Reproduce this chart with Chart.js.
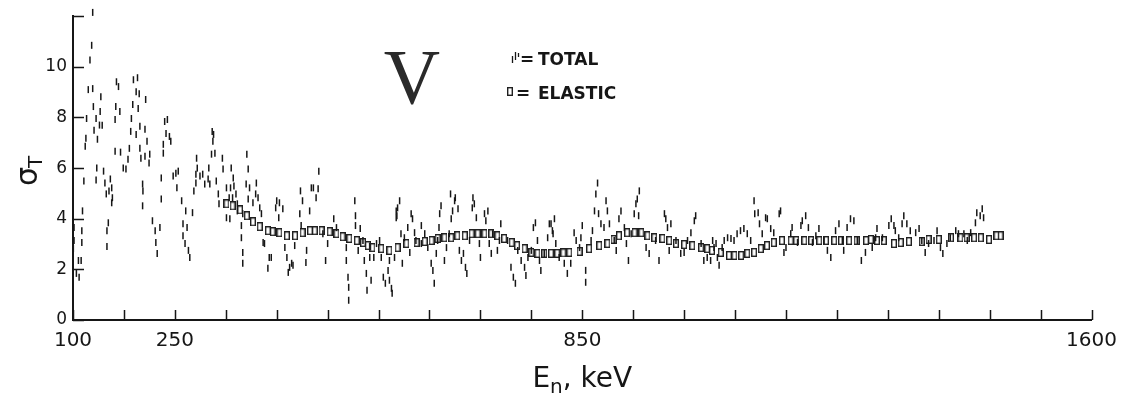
<!DOCTYPE html>
<html>
<head>
<meta charset="utf-8">
<script src="https://cdn.jsdelivr.net/npm/chart.js@4/dist/chart.umd.min.js"></script>
<style>
  body { margin: 0; background: #fff; }
  .wrap { width: 1126px; height: 396px; }
</style>
</head>
<body>
<div class="wrap"><canvas id="myChart"></canvas></div>
<script>
// energy (keV), cross section (b)
const totalPoints = [
  [129,12.15],[127.5,10.85],[125,10.27],[122.5,9.1],[129,9.14],[141,8.82],[130,8.43],[140,8.24],
  [120,7.96],[134,7.96],[131,7.5],[139,7.7],[143,7.69],[119,7.18],[118,6.86],[136,7.14],
  [116,5.49],[135,6.0],[134,5.53],[145,5.88],[147,5.41],[149,4.98],[153,5.1],[155,5.57],
  [157,5.22],[158,4.83],[157,4.63],[114,4.31],[101.5,3.65],[113,3.53],[101.5,3.14],[113,3.06],
  [100.5,2.82],[108,2.35],[112,2.35],[105,1.84],[109,1.69],[150,3.53],[152,3.84],[150,2.9],
  [164,9.41],[167,9.22],[163,8.43],[169,8.24],[162,7.92],[162,6.67],[170,6.63],[174,6.0],
  [178,5.96],[189,9.49],[195,9.57],[193,9.02],[197.5,8.94],[188,8.51],[196,8.35],[186,7.96],
  [185,7.45],[193,7.33],[183,6.78],[181,6.35],[198.5,6.78],[207,8.71],[198.5,7.65],[206,7.53],
  [209,7.06],[200,6.39],[206,6.47],[213,6.55],[212,6.2],[202.5,5.37],[203,5.1],[202.5,4.51],
  [217,3.92],[221,3.53],[222,3.06],[224,2.63],[228,3.65],[235,7.84],[239,7.92],[237,7.37],
  [242,7.25],[244,7.06],[233,6.94],[233,6.59],[230,5.61],[230,4.78],[247.5,5.69],[251.5,5.8],
  [255,5.88],[253,5.22],[260,4.71],[266,4.31],[262,3.8],[268,3.65],[262,3.33],[265,3.02],
  [270,2.75],[272,2.47],[276,4.24],[282,6.39],[283,6.0],[281,5.76],[281,5.41],[278,5.1],
  [287,5.69],[291,5.76],[294,5.37],[299,5.57],[300,6.0],[301.5,5.37],[305,7.45],[307,7.33],
  [306,7.06],[304,6.55],[309,6.59],[311,5.49],[314,4.98],[315,4.59],[320,6.39],[321,5.96],
  [326,5.22],[330,4.83],[326,4.04],[331,4.0],[333,6.0],[336,5.61],[337,5.29],[340,4.98],
  [342,4.59],[342,4.31],[332,5.22],[335,4.83],
  [356,6.55],[358,5.96],[355,5.37],[360,5.22],[358,4.78],[365,4.63],[370,5.41],[369,4.98],
  [372.5,4.83],[375,4.43],[377.5,4.2],[348,3.73],[348,3.25],[350,2.67],[350,2.24],[350,4.2],
  [380,3.06],[382,3.02],[389,2.47],[387,2.04],[392,2.47],[400,4.71],[398.5,4.43],[404,4.63],
  [409,4.39],[403,4.04],[412,2.86],[415,2.47],[419,2.08],[417,1.88],[422,2.24],[424,2.16],
  [426.5,2.94],[435,5.1],[438,4.71],[434,4.2],[436,3.73],[444,2.75],[443,2.27],[448.5,4.31],
  [451,5.22],[454,5.22],[458,4.83],[462,5.88],[461,5.18],[468,3.41],[472,2.35],[475,3.02],
  [484,4.0],[488,3.65],[502.5,2.86],[502.5,2.35],[505,1.69],[506,1.29],[506,0.78],[515,4.71],
  [516,4.12],[516,3.73],[523,3.61],[520,2.75],[527,3.14],[529,2.35],[532,1.84],[533,1.18],
  [537,2.47],[539,1.57],[543,2.47],[547,3.02],[551.5,3.14],[554,2.47],[557,1.69],[560,1.45],
  [564,1.96],[566,2.35],[569,1.25],[570,1.06],[573.5,2.47],[576,4.31],[578,4.43],[576,4.04],
  [566,1.57],[577,4.12],[581,4.71],[585,2.24],[588,3.25],[583,3.41],[593,3.65],[596,2.67],
  [598,4.2],[600,4.0],[603,3.45],[605,3.14],[613,3.73],[613,3.02],[618,3.41],[622.5,2.86],
  [627.5,2.24],[630,1.96],[632,1.45],[635,2.63],[637,3.14],[639,3.65],[640,4.2],[642,4.51],
  [647,2.35],[650,2.86],[654,3.41],[656,4.98],[657,4.0],[659,4.31],[662,4.71],[663,4.83],
  [667,4.39],[669,2.75],[672,2.35],[675,2.63],[678,2.08],[680,1.84],[684,3.14],[689,4.83],
  [688,4.43],[691,4.59],[694,4.04],[698.5,3.02],[700,2.47],[706,4.2],[708,3.92],[711,4.31],
  [713,3.02],[716,2.63],[718,3.41],[725,2.75],[728,3.14],[730,3.8],[740,3.14],[745,2.08],
  [748.5,1.69],[751.5,1.45],[755,2.75],[760,2.35],[765,2.08],[767,1.76],[770,2.47],[775,2.75],
  [778,3.65],[781,3.84],[784,3.14],[787,2.35],[789,1.96],[794,2.63],[799,3.25],[801.5,3.8],
  [806,3.53],[809,4.0],[811,3.02],
  [804,3.8],[807,3.41],[816,2.47],[823.5,2.24],[828,1.84],[833,2.24],[838,3.45],[841,3.14],
  [846,2.86],[850,3.73],[848,3.25],[855,1.96],[855,1.49],[863,3.14],[865,3.53],[868,4.31],
  [870,4.98],[872.5,5.41],[874,4.2],[877.5,3.8],[882,3.65],[885,4.71],[887,4.31],[890,3.8],
  [897,3.14],[900,2.75],[904,4.0],[907,4.31],[912,3.65],[915,3.02],[918,2.35],[922,3.41],
  [926.5,4.2],[929,4.59],[931,4.78],[934,5.1],[933,4.12],[944,2.86],[948.5,2.63],[958,3.14],
  [963,2.35],[971,4.2],[973,4.0],[975.5,3.65],[978,2.75],[980.5,3.8],[988,3.14],[995,2.63],
  [1000,2.67],[1005,3.14],[1010,3.45],[1015,3.92],[1017,4.12],[1025,3.02],[1029,2.35],[1034,2.47],
  [1042,3.14],[1047,3.02],
  [1039,2.35],[1044,2.86],[1049,2.47],[1051.5,2.16],[1056,2.86],[1059,3.14],[1064,3.25],[1069,3.22],
  [1073.5,3.14],[1078,3.41],[1083,3.53],[1088,3.61],[1093,3.41],[1098,3.14],[1103,4.71],[1104,4.2],
  [1109,4.24],[1111,3.8],[1115,3.41],[1120,4.04],[1122.5,4.0],[1127.5,3.61],[1132,3.45],[1140,4.2],
  [1142,4.31],[1147,2.67],[1150,2.86],[1157,3.41],[1159,3.65],[1167,3.06],[1172,3.73],[1174,3.92],
  [1179,4.12],[1183,3.65],[1189,3.06],[1194,3.33],[1198.5,3.61],[1206,3.14],[1211,2.75],[1216,2.47],
  [1223,3.53],[1228,3.8],[1233,3.14],[1235,2.75],[1240,3.65],[1245,4.0],[1250,3.92],[1255,3.14],
  [1261,2.35],[1267,2.67],[1277,2.86],[1282,3.25],[1284,3.61],
  [1292,3.25],[1301.5,3.73],[1305,4.0],[1309,3.73],[1311,3.53],[1316,3.25],[1321,3.8],[1323.5,4.12],
  [1328,3.8],[1333,3.53],[1341,3.45],[1346,3.61],[1350,3.14],[1355,2.67],[1360,3.02],[1368,3.14],
  [1372.5,3.53],[1377.5,2.86],[1381,2.63],[1387,3.02],[1392,3.25],[1400,3.53],[1404,3.41],[1412,3.41],
  [1417,3.14],[1422,3.45],[1429,3.84],[1431,4.24],[1436,4.12],[1439,4.39],[1441,4.04]
];

const elasticPoints = [
  [326,4.59],[335,4.51],[346,4.35],[356,4.12],[365,3.88],[375,3.69],[387,3.53],[394,3.49],
  [404,3.45],[415,3.33],[427,3.33],[438,3.45],[449,3.53],[456,3.53],[466,3.53],[478,3.49],
  [488,3.41],[497,3.29],[507,3.22],[518,3.14],[527,3.06],[534,2.94],[541,2.86],[554,2.82],
  [566,2.75],[578,2.86],[591,3.02],[606,3.06],[618,3.10],[628,3.14],[637,3.22],[647,3.25],
  [657,3.25],[666,3.33],[677,3.33],[687,3.41],[696,3.41],[706,3.41],[716,3.41],[725,3.33],
  [735,3.22],[746,3.06],[754,2.94],[765,2.82],[775,2.67],[784,2.63],[794,2.63],[804,2.63],
  [813,2.63],[822,2.65],[831,2.67],[846,2.71],[860,2.82],[875,2.94],[887,3.02],[896,3.18],
  [904,3.33],[916,3.45],[927,3.45],[937,3.45],[946,3.33],[956,3.25],[968,3.22],[978,3.14],
  [988,3.02],[1000,2.98],[1012,2.94],[1025,2.86],[1034,2.82],[1041,2.75],[1054,2.67],[1066,2.55],
  [1074,2.55],[1084,2.55],[1093,2.63],[1103,2.67],[1113,2.82],[1122,2.94],[1132,3.06],[1144,3.14],
  [1157,3.14],[1165,3.14],[1177,3.14],[1187,3.14],[1199,3.14],[1209,3.14],[1221,3.14],[1231,3.14],
  [1243,3.14],[1254,3.14],[1268,3.14],[1275,3.18],[1284,3.14],[1294,3.14],[1309,3.02],[1319,3.06],
  [1331,3.10],[1350,3.10],[1360,3.18],[1375,3.18],[1393,3.25],[1407,3.25],[1416,3.25],[1427,3.25],
  [1437,3.25],[1449,3.18],[1460,3.33],[1466,3.33]
];

const xTicks = [100,175,250,325,400,475,550,625,700,775,850,925,1000,1075,1150,1225,1300,1375,1450,1525,1600];
const xTickLabels = [100, 250, 850, 1600];
const yTicks = [0, 2, 4, 6, 8, 10, 12];
const yTickLabels = [0, 2, 4, 6, 8, 10];

const ink = '#161616';
const sans = '"DejaVu Sans", sans-serif';

// open rectangle used as the elastic marker
const rectMark = document.createElement('canvas');
rectMark.width = 6;
rectMark.height = 9;
(function () {
  const c = rectMark.getContext('2d');
  c.strokeStyle = '#202020';
  c.lineWidth = 1.4;
  c.strokeRect(0.7, 0.7, 4.6, 7.6);
})();

const toXY = p => ({ x: p[0], y: p[1] });

// ticks inside the frame, titles, "V" and the key
const decor = {
  id: 'decor',
  afterDraw(chart) {
    const ctx = chart.ctx;
    const xs = chart.scales.x, ys = chart.scales.y;
    const a = chart.chartArea;
    ctx.save();
    ctx.strokeStyle = ink;
    ctx.lineWidth = 1.5;
    ctx.beginPath();
    xs.ticks.forEach(t => {
      const px = Math.round(xs.getPixelForValue(t.value)) + 0.5;
      ctx.moveTo(px, a.bottom);
      ctx.lineTo(px, a.bottom - 10);
    });
    ys.ticks.forEach(t => {
      const py = Math.round(ys.getPixelForValue(t.value)) + 0.5;
      ctx.moveTo(a.left, py);
      ctx.lineTo(a.left + 11, py);
    });
    ctx.stroke();

    ctx.fillStyle = ink;
    ctx.textBaseline = 'alphabetic';

    // x title: E_n, keV
    const big = '28px ' + sans, sub = '20px ' + sans;
    ctx.font = big;
    const wE = ctx.measureText('E').width;
    const wRest = ctx.measureText(', keV').width;
    ctx.font = sub;
    const wN = ctx.measureText('n').width;
    let cx = (a.left + a.right) / 2 - (wE + wN + wRest) / 2;
    ctx.textAlign = 'left';
    ctx.font = big;
    ctx.fillText('E', cx, 387);
    ctx.font = sub;
    ctx.fillText('n', cx + wE, 393);
    ctx.font = big;
    ctx.fillText(', keV', cx + wE + wN, 387);

    // y title: sigma_T
    ctx.save();
    ctx.translate(37, 186);
    ctx.rotate(-Math.PI / 2);
    ctx.font = '30px ' + sans;
    ctx.fillText('σ', 0, 0);
    const wS = ctx.measureText('σ').width;
    ctx.font = '20px ' + sans;
    ctx.fillText('T', wS - 1, 5);
    ctx.restore();

    // element symbol
    ctx.fillStyle = '#2a2a2a';
    ctx.font = '78px "Liberation Serif", serif';
    ctx.textAlign = 'center';
    ctx.fillText('V', 412, 103);
    ctx.fillStyle = ink;

    // key
    ctx.textAlign = 'left';
    ctx.lineWidth = 1.3;
    ctx.beginPath();
    ctx.moveTo(512.5, 56); ctx.lineTo(512.5, 63);
    ctx.moveTo(515.5, 52); ctx.lineTo(515.5, 60);
    ctx.moveTo(518.5, 53); ctx.lineTo(518.5, 57);
    ctx.stroke();
    ctx.drawImage(rectMark, 507, 87);
    ctx.font = 'bold 17px ' + sans;
    ctx.fillText('=', 520, 65);
    ctx.fillText('TOTAL', 538, 65);
    ctx.fillText('=', 516, 99);
    ctx.fillText('ELASTIC', 538, 99);
    ctx.restore();
  }
};

const ctx = document.getElementById('myChart').getContext('2d');
const chartInstance = new Chart(ctx, {
  type: 'scatter',
  data: {
    datasets: [
      {
        label: 'TOTAL',
        data: totalPoints.map(toXY),
        pointStyle: 'line',
        rotation: 90,
        pointRadius: 3.5,
        borderWidth: 1.5,
        borderColor: ink,
        backgroundColor: ink,
        clip: false
      },
      {
        label: 'ELASTIC',
        data: elasticPoints.map(toXY),
        pointStyle: rectMark,
        pointRadius: 4,
        clip: false
      }
    ]
  },
  options: {
    responsive: true,
    maintainAspectRatio: false,
    animation: false,
    events: [],
    layout: { padding: { top: 14, right: 33, left: 0, bottom: 0 } },
    plugins: {
      legend: { display: false },
      tooltip: { enabled: false }
    },
    scales: {
      x: {
        type: 'linear',
        min: 100,
        max: 1600,
        afterBuildTicks: s => { s.ticks = xTicks.map(v => ({ value: v })); },
        afterFit: s => { s.height = 76; },
        grid: { display: false, drawTicks: false },
        border: { display: true, color: ink, width: 2 },
        ticks: {
          autoSkip: false,
          maxRotation: 0,
          padding: 9,
          color: ink,
          font: { family: sans, size: 20 },
          callback: v => xTickLabels.includes(v) ? String(v) : ''
        }
      },
      y: {
        type: 'linear',
        min: 0,
        max: 12,
        afterBuildTicks: s => { s.ticks = yTicks.map(v => ({ value: v })); },
        afterFit: s => { s.width = 73; },
        grid: { display: false, drawTicks: false },
        border: { display: true, color: ink, width: 2 },
        ticks: {
          autoSkip: false,
          padding: 6,
          color: ink,
          font: { family: sans, size: 17 },
          callback: v => yTickLabels.includes(v) ? String(v) : ''
        }
      }
    }
  },
  plugins: [decor]
});
</script>
</body>
</html>
